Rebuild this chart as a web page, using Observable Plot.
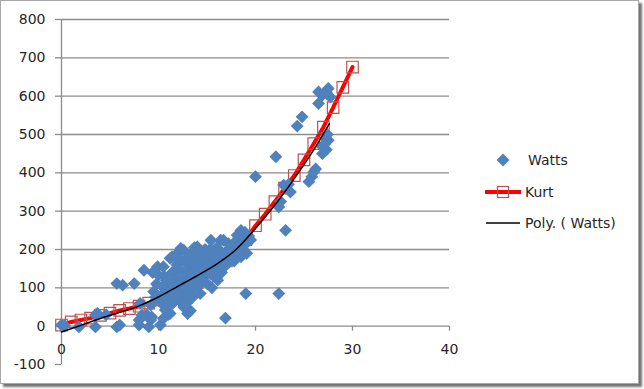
<!DOCTYPE html>
<html>
<head>
<meta charset="utf-8">
<script src="https://cdn.jsdelivr.net/npm/d3@7"></script>
<script src="https://cdn.jsdelivr.net/npm/@observablehq/plot@0.6"></script>
<style>
  html, body { margin: 0; padding: 0; background: #fff; }
  #wrap { position: relative; width: 644px; height: 389px; overflow: hidden; }
  #frame { position: absolute; left: 0; top: 0; width: 637px; height: 382px;
           border: 1px solid #a8a8a8; box-shadow: 3px 3px 2px rgba(0,0,0,0.55); background: #fff; }
  #chart { position: absolute; left: 0; top: 0; }
  #legend { position: absolute; left: 0; top: 0; }
</style>
</head>
<body>
<div id="wrap">
  <div id="frame"></div>
  <div id="chart"></div>
  <svg id="legend" width="644" height="389"></svg>
</div>
<script>
// Tick values
const xTicks = [0, 10, 20, 30, 40];
const yTicks = [-100, 0, 100, 200, 300, 400, 500, 600, 700, 800];
const yGrid = [100, 200, 300, 400, 500, 600, 700, 800];

// Series "Watts" (scatter)
const wattsX = [
  0, 0.3, 1.8, 3.5, 3.5, 3.7, 4.6, 5.7, 6, 5.7, 6.3, 7.5, 8, 8, 8.3, 8.1, 8.5, 8.8, 9, 9.2, 9.2, 9.3, 9.4, 9.9, 9.7,
  10.2, 10.2, 10, 10.4, 10.5, 10.7, 10.9, 10.6, 10.8, 10.5, 11, 11.2, 11.2, 11.2, 11.4, 11.6, 11.8, 11.5, 11.8,
  12.1, 12.3, 12.3, 12.3, 12.6, 12.6, 12, 12.2, 12.5, 12.8, 12.4, 13, 13, 13.3, 13.5, 13.2, 13.4, 13.6, 13.8, 13.1,
  14, 14, 14, 14.2, 14.4, 14.5, 14.7, 14.8, 14.3, 15, 15.4, 15.4, 15.2, 15.6, 15.8, 15.5, 15.1, 16, 16.4, 16.4,
  16.2, 16.6, 16.8, 16.1, 16.9, 16.7, 17.1, 17.4, 17.2, 17.6, 17.8, 18.1, 18.1, 18.5, 18.5, 18.8, 18.3, 18.7,
  19, 19.1, 19, 19.3, 19.5, 18.9,
  12.7, 13, 13.5, 13.9, 14.6, 15, 15.3, 15.9, 16.3, 16.5, 17, 17.3, 17.9, 12.9, 13.7, 14.9, 15.7, 16, 11.4, 11.9,
  12.2, 10.8, 11.5, 12, 12.8, 13.5, 14.2, 10.3, 10.9, 11.3, 11.7, 12.5, 13.2, 14.1, 14.6, 15.4, 16.2, 17.5, 18.2,
  11, 10.6, 9.8, 9.5, 12.9, 13.8, 15.8, 17.7,
  20, 22.1, 22.4, 22.4, 22.9, 22.6, 23.1, 23.6, 23.4, 24.3, 24.8, 25.5, 25.8, 26, 26.2, 26.5, 26.5, 26.9, 27.5,
  27.7, 27.3, 27.2, 27.5, 26.9, 26.9, 27.1, 27.4, 27.3
];
const wattsY = [
  3, 1, -2, -2, 29, 33, 30, -2, 3, 111, 107, 111, 3, 16, 29, 59, 146, 29, -2, 16, 55, 24, 140, 155, 76,
  3, 76, 133, 103, 155, 42, 42, 88, 120, 20, 30, 33, 76, 177, 181, 120, 125, 60, 95,
  194, 203, 63, 68, 50, 198, 150, 110, 140, 165, 85, 68, 33, 40, 190, 120, 150, 100, 170, 90,
  207, 137, 103, 160, 185, 120, 140, 200, 85, 111, 224, 155, 175, 190, 130, 100, 140, 146, 172, 224,
  200, 160, 185, 120, 21, 224, 198, 181, 215, 200, 170, 207, 237, 181, 250, 198, 220, 230,
  85, 190, 215, 235, 225, 245,
  120, 140, 130, 150, 165, 185, 200, 170, 185, 140, 160, 190, 195, 175, 205, 160, 150, 205, 140, 160,
  175, 100, 110, 80, 100, 75, 110, 60, 70, 95, 85, 120, 105, 125, 145, 135, 155, 180, 190,
  55, 130, 110, 90, 60, 120, 175, 215,
  390, 442, 311, 85, 368, 325, 250, 350, 370, 522, 546, 377, 390, 402, 410, 581, 611, 603, 620,
  598, 610, 490, 485, 468, 450, 475, 500, 460
];

// Series "Kurt" (line with square markers)
const kurtX = [0,1,2,3,4,5,6,7,8,9,10,11,12,13,14,15,16,17,18,19,20,21,22,23,24,25,26,27,28,29,30];
const kurtY = [3,11,16,21,28,34,41,46,52,60,68,77,88,100,114,130,148,170,196,226,262,292,325,360,393,434,476,519,570,623,676];

// Trendline "Poly. ( Watts)"
const polyX = [0, 2, 4, 6, 8, 10, 12, 14, 16, 18, 20, 22, 24, 26, 27.6];
const polyY = [-15, 2, 20, 36, 53, 76, 104, 132, 162, 200, 255, 316, 385, 460, 528];

const watts = wattsX.map((x, i) => ({x, y: wattsY[i]}));
const kurt = kurtX.map((x, i) => ({x, y: kurtY[i]}));
const poly = polyX.map((x, i) => ({x, y: polyY[i]}));

const gridColor = "#8c8c8c";
const textColor = "#262626";
const font = "DejaVu Sans, Verdana, sans-serif";

const chart = Plot.plot({
  width: 644,
  height: 389,
  marginLeft: 61,
  marginRight: 195,
  marginTop: 19,
  marginBottom: 25,
  style: {fontFamily: font, fontSize: "14px", background: "transparent", overflow: "visible"},
  x: {domain: [0, 40], axis: null},
  y: {domain: [-100, 800]},
  marks: [
    Plot.ruleY(yGrid, {y: d => d, x1: 0, x2: 40, stroke: gridColor, strokeWidth: 1.3}),
    Plot.axisY(yTicks, {tickSize: 6, tickPadding: 10, stroke: gridColor, strokeWidth: 1.3, fill: textColor,
      label: null, tickFormat: d => String(d), fontSize: 14}),
    Plot.ruleX([0], {x: d => d, y1: -100, y2: 800, stroke: gridColor, strokeWidth: 1.3}),
    Plot.ruleY([0], {y: d => d, x1: 0, x2: 40, stroke: gridColor, strokeWidth: 1.3}),
    Plot.ruleX(xTicks, {x: d => d, y1: 0, y2: -13, stroke: gridColor, strokeWidth: 1.3}),
    Plot.text(xTicks, {x: d => d, y: 0, dy: 23, text: d => String(d), fill: textColor, fontSize: 14}),
    Plot.line(kurt, {x: "x", y: "y", stroke: "#ff0000", strokeWidth: 4}),
    Plot.dot(kurt, {x: "x", y: "y", symbol: "square", r: 6.5, stroke: "#c0504d", strokeWidth: 1.2, fill: "none"}),
    Plot.dot(watts, {x: "x", y: "y", symbol: "diamond2", r: 5.8, fill: "#4f81bd", stroke: "none"}),
    Plot.line(poly, {x: "x", y: "y", stroke: "#000", strokeWidth: 1.5, curve: "monotone-x"})
  ]
});
document.getElementById("chart").appendChild(chart);

// Legend
const legendItems = [
  {label: "Watts", kind: "diamond", cy: 160, tx: 528},
  {label: "Kurt", kind: "kurt", cy: 192, tx: 525},
  {label: "Poly. ( Watts)", kind: "poly", cy: 223, tx: 525}
];
const lg = d3.select("#legend");
for (const it of legendItems) {
  if (it.kind === "diamond") {
    lg.append("path").attr("d", d3.symbol(d3.symbolDiamond2, Math.PI * 5.8 * 5.8)())
      .attr("transform", `translate(503,${it.cy})`).attr("fill", "#4f81bd");
  } else if (it.kind === "kurt") {
    lg.append("line").attr("x1", 485).attr("x2", 521).attr("y1", it.cy).attr("y2", it.cy)
      .attr("stroke", "#ff0000").attr("stroke-width", 4);
    lg.append("rect").attr("x", 497.5).attr("y", it.cy - 5.5).attr("width", 11).attr("height", 11)
      .attr("fill", "none").attr("stroke", "#c0504d").attr("stroke-width", 1.2);
  } else {
    lg.append("line").attr("x1", 486).attr("x2", 520).attr("y1", it.cy).attr("y2", it.cy)
      .attr("stroke", "#000").attr("stroke-width", 1.5);
  }
  lg.append("text").attr("x", it.tx).attr("y", it.cy).attr("dy", "0.35em")
    .attr("font-family", font).attr("font-size", 14).attr("fill", textColor).text(it.label);
}
</script>
</body>
</html>
